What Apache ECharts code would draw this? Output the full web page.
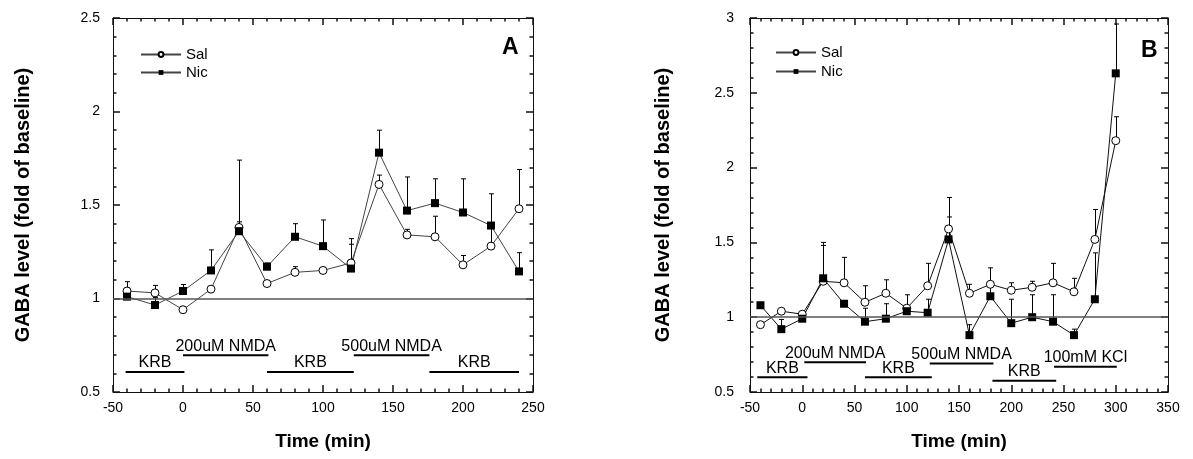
<!DOCTYPE html>
<html>
<head>
<meta charset="utf-8">
<script src="https://cdn.jsdelivr.net/npm/echarts@6/dist/echarts.min.js"></script>
<style>
html,body{margin:0;padding:0;background:#fff;}
#chart{width:1193px;height:459px;}
</style>
</head>
<body>
<div id="chart"></div>
<script>
// ---------- Data ----------
const timeA   = [-40, -20, 0, 20, 40, 60, 80, 100, 120, 140, 160, 180, 200, 220, 240];
const salA    = [1.04, 1.03, 0.94, 1.05, 1.38, 1.08, 1.14, 1.15, 1.19, 1.61, 1.34, 1.33, 1.18, 1.28, 1.48];
const salErrA = [0.05, 0.04, 0.01, 0.01, 0.36, 0.01, 0.03, 0.01, 0.10, 0.05, 0.03, 0.11, 0.05, 0.12, 0.21];
const nicA    = [1.01, 0.965, 1.04, 1.15, 1.36, 1.17, 1.33, 1.28, 1.16, 1.78, 1.47, 1.51, 1.46, 1.39, 1.145];
const nicErrA = [0.03, 0.04, 0.035, 0.11, 0.05, 0.02, 0.07, 0.14, 0.16, 0.12, 0.18, 0.13, 0.18, 0.17, 0.10];

const timeB   = [-40, -20, 0, 20, 40, 60, 80, 100, 120, 140, 160, 180, 200, 220, 240, 260, 280, 300];
const salB    = [0.95, 1.04, 1.02, 1.24, 1.23, 1.10, 1.16, 1.06, 1.21, 1.59, 1.16, 1.22, 1.18, 1.20, 1.23, 1.17, 1.52, 2.18];
const salErrB = [0.01, 0.01, 0.01, 0.26, 0.17, 0.11, 0.09, 0.09, 0.15, 0.21, 0.06, 0.11, 0.05, 0.04, 0.13, 0.09, 0.20, 0.16];
const nicB    = [1.08, 0.92, 0.99, 1.26, 1.09, 0.97, 0.99, 1.04, 1.03, 1.52, 0.88, 1.14, 0.96, 1.00, 0.97, 0.88, 1.12, 2.63];
const nicErrB = [0.01, 0.065, 0.02, 0.22, 0.02, 0.09, 0.10, 0.02, 0.09, 0.15, 0.07, 0.07, 0.16, 0.15, 0.18, 0.04, 0.31, 0.33];

// treatment periods (min) and their labels
const treatStartA = [-41, 0, 60, 122, 176];
const treatEndA   = [1, 61, 122, 176, 240];
const treatLevelA = [0.607, 0.697, 0.607, 0.697, 0.607];
const treatLabelA = ['KRB', '200uM NMDA', 'KRB', '500uM NMDA', 'KRB'];

const treatStartB = [-43, 2, 60, 122, 182, 241];
const treatEndB   = [5, 61, 124, 183, 243, 301];
const treatLevelB = [0.598, 0.699, 0.598, 0.69, 0.576, 0.669];
const treatLabelB = ['KRB', '200uM NMDA', 'KRB', '500uM NMDA', 'KRB', '100mM KCl'];

// axis ranges / tick steps
const xRangeA = [-50, 250], yRangeA = [0.5, 2.5];
const xRangeB = [-50, 350], yRangeB = [0.5, 3];
const xStep = 50, yStep = 0.5;

const seriesNames = ['Sal', 'Nic'];
const panelLetters = ['A', 'B'];
const yTitle = 'GABA level (fold of baseline)';
const xTitle = 'Time (min)';

// ---------- Chart ----------
const FONT = '"Liberation Sans", Arial, sans-serif';
const AX = '#111';

function baseAxis(gi, range, step, pos) {
  return {
    gridIndex: gi, type: 'value', min: range[0], max: range[1], interval: step, position: pos,
    axisLine: {show: true, onZero: false, lineStyle: {color: AX, width: 1}},
    axisTick: {show: true, inside: true, length: 7, lineStyle: {color: AX, width: 1.5}},
    minorTick: {show: true, splitNumber: 5, length: 3.5, lineStyle: {color: AX, width: 1.5}},
    splitLine: {show: false}
  };
}
function xAxes(gi, range) {
  return [
    Object.assign(baseAxis(gi, range, xStep, 'bottom'), {
      axisLabel: {show: true, margin: 9, fontSize: 14, color: '#000', fontFamily: FONT},
      name: xTitle, nameLocation: 'middle', nameGap: 40,
      nameTextStyle: {fontSize: 19, fontWeight: 'bold', color: '#000', fontFamily: FONT}
    }),
    Object.assign(baseAxis(gi, range, xStep, 'top'), {axisLabel: {show: false}})
  ];
}
function yAxes(gi, range, margin, gap) {
  return [
    Object.assign(baseAxis(gi, range, yStep, 'left'), {
      axisLabel: {show: true, margin: margin, fontSize: 14, color: '#000', fontFamily: FONT},
      name: yTitle, nameLocation: 'middle', nameGap: gap,
      nameTextStyle: {fontSize: 20, fontWeight: 'bold', color: '#000', fontFamily: FONT}
    }),
    Object.assign(baseAxis(gi, range, yStep, 'right'), {axisLabel: {show: false}})
  ];
}

function lineSeries(name, xs, ys, xi, yi, lineColor, withRef) {
  const isSal = name === seriesNames[0];
  const s = {
    name: name, type: 'line', xAxisIndex: xi, yAxisIndex: yi,
    data: xs.map((t, i) => [t, ys[i]]),
    symbol: isSal ? 'circle' : 'rect',
    symbolSize: 8,
    showAllSymbol: true,
    lineStyle: {color: lineColor, width: 1},
    itemStyle: isSal ? {color: '#fff', borderColor: '#000', borderWidth: 1}
                     : {color: '#000', borderColor: '#000', borderWidth: 0},
    z: 3, animation: false, silent: true
  };
  if (withRef) {
    s.markLine = {
      silent: true, symbol: ['none', 'none'], label: {show: false},
      lineStyle: {color: '#555', width: 1.5, type: 'solid'},
      data: [{yAxis: 1}], animation: false
    };
  }
  return s;
}

function errSeries(xs, ys, es, xi, yi) {
  return {
    type: 'custom', xAxisIndex: xi, yAxisIndex: yi, z: 2, silent: true, animation: false,
    data: xs.map((t, i) => [t, ys[i], ys[i] + es[i]]),
    encode: {x: 0, y: [1, 2]},
    renderItem: function (params, api) {
      const b = api.coord([api.value(0), api.value(1)]);
      const t = api.coord([api.value(0), api.value(2)]);
      const x = Math.round(b[0]) + 0.5;
      return {
        type: 'group', children: [
          {type: 'line', shape: {x1: x, y1: b[1], x2: x, y2: t[1]}, style: {stroke: '#000', lineWidth: 1}},
          {type: 'line', shape: {x1: x - 2.5, y1: t[1], x2: x + 2.5, y2: t[1]}, style: {stroke: '#000', lineWidth: 1}}
        ]
      };
    }
  };
}

function treatSeries(starts, ends, levels, labels, xi, yi) {
  return {
    type: 'custom', xAxisIndex: xi, yAxisIndex: yi, z: 2, silent: true, animation: false,
    data: starts.map((s, i) => [s, ends[i], levels[i]]),
    encode: {x: [0, 1], y: 2},
    renderItem: function (params, api) {
      const p0 = api.coord([api.value(0), api.value(2)]);
      const p1 = api.coord([api.value(1), api.value(2)]);
      return {
        type: 'group', children: [
          {type: 'line', shape: {x1: p0[0], y1: p0[1], x2: p1[0], y2: p1[1]}, style: {stroke: '#000', lineWidth: 2}},
          {type: 'text', style: {
            text: labels[params.dataIndex], x: (p0[0] + p1[0]) / 2, y: p0[1] - 1,
            align: 'center', verticalAlign: 'bottom',
            font: '16px ' + FONT, fill: '#000'
          }}
        ]
      };
    }
  };
}

const chart = echarts.init(document.getElementById('chart'));
const option = {
  animation: false,
  backgroundColor: '#fff',
  grid: [
    {left: 113, top: 18, width: 420, height: 374},
    {left: 750, top: 18, width: 418, height: 374}
  ],
  xAxis: [].concat(xAxes(0, xRangeA), xAxes(1, xRangeB)),
  yAxis: [].concat(yAxes(0, yRangeA, 13, 80), yAxes(1, yRangeB, 16, 77)),
  title: [
    {text: panelLetters[0], left: 497, top: 31, textStyle: {fontSize: 23, fontWeight: 'bold', color: '#000', fontFamily: FONT}},
    {text: panelLetters[1], left: 1136, top: 34, textStyle: {fontSize: 23, fontWeight: 'bold', color: '#000', fontFamily: FONT}}
  ],
  legend: [
    {data: seriesNames, left: 135, top: 42, orient: 'vertical', itemWidth: 40, itemHeight: 6, itemGap: 3,
     textStyle: {fontSize: 15, color: '#000', fontFamily: FONT}, selectedMode: false},
    {data: seriesNames, left: 770, top: 40, orient: 'vertical', itemWidth: 40, itemHeight: 6, itemGap: 4,
     textStyle: {fontSize: 15, color: '#000', fontFamily: FONT}, selectedMode: false}
  ],
  series: [
    errSeries(timeA, salA, salErrA, 0, 0),
    errSeries(timeA, nicA, nicErrA, 0, 0),
    lineSeries(seriesNames[0], timeA, salA, 0, 0, '#444', true),
    lineSeries(seriesNames[1], timeA, nicA, 0, 0, '#444', false),
    treatSeries(treatStartA, treatEndA, treatLevelA, treatLabelA, 0, 0),

    errSeries(timeB, salB, salErrB, 2, 2),
    errSeries(timeB, nicB, nicErrB, 2, 2),
    lineSeries(seriesNames[0], timeB, salB, 2, 2, '#111', true),
    lineSeries(seriesNames[1], timeB, nicB, 2, 2, '#111', false),
    treatSeries(treatStartB, treatEndB, treatLevelB, treatLabelB, 2, 2)
  ]
};
chart.setOption(option);
</script>
</body>
</html>
